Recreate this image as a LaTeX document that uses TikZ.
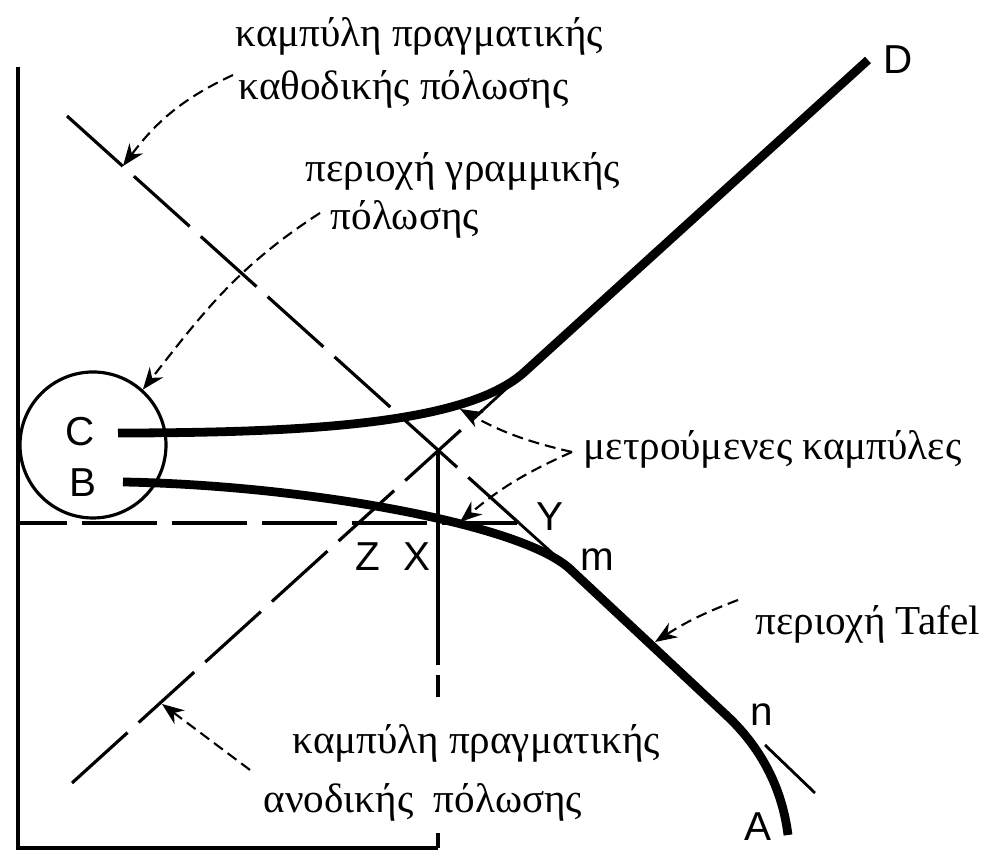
\documentclass[tikz,border=0pt]{standalone}
\usepackage{fontspec}
\setmainfont{Liberation Serif}
\setsansfont{Liberation Sans}
\usepackage{tikz}
\usetikzlibrary{arrows.meta}

\begin{document}
\begin{tikzpicture}[x=1cm,y=1cm,
  every node/.style={font=\fontsize{11.7}{14}\selectfont},
  letter/.style={font=\sffamily\fontsize{11.5}{12}\selectfont, inner sep=0pt},
  caption/.style={anchor=base west, inner sep=0pt},
  axisline/.style={line width=0.9pt},
  polcurve/.style={line width=2.5pt},
  thinline/.style={line width=0.8pt},
  longdash/.style={line width=0.9pt, dash pattern=on 0.75cm off 0.15cm},
  pointer/.style={line width=0.6pt, dash pattern=on 0.11cm off 0.06cm, -{Stealth[length=2.2mm,width=1.7mm]}}]
  \useasboundingbox (0,0) rectangle (9.84,8.52);

  % axes
  \coordinate (axTop) at (0.18,7.85);
  \coordinate (origin) at (0.18,0.04);
  \coordinate (xfoot) at (4.38,0.04);
  \draw[axisline] (axTop) -- (origin) -- (xfoot);
  \node[draw, circle, minimum size=1.46cm, inner sep=0pt, line width=0.9pt] (lin) at (0.93,4.07) {};

  % key points
  \coordinate (cross) at (4.38,4.02);
  \coordinate (Ypt) at (5.19,3.29);
  \coordinate (mpt) at (5.70,2.83);
  \coordinate (npt) at (7.25,1.38);
  \coordinate (Apt) at (7.88,0.17);
  \coordinate (hstart) at (0.18,3.29);
  \coordinate (catTop) at (0.67,7.36);
  \coordinate (anoBot) at (0.72,0.69);
  \coordinate (anoJoin) at (4.83,4.42);
  \coordinate (anoTan) at (5.25,4.805);
  \coordinate (Dpt) at (8.68,7.92);
  \coordinate (nTanA) at (7.65,1.07);
  \coordinate (nTanB) at (8.15,0.59);

  % real polarisation lines
  \draw[longdash] (catTop) -- (Ypt);
  \draw[thinline] (Ypt) -- (mpt);
  \draw[longdash] (anoBot) -- (anoJoin);
  \draw[thinline] (anoJoin) -- (anoTan);
  \draw[longdash, dash phase=0.26cm] (hstart) -- (Ypt);
  \draw[axisline, dash pattern=on 2.15cm off 0.1cm on 0.22cm off 1.36cm on 0.3cm] (cross) -- (xfoot);
  \draw[thinline] (nTanA) -- (nTanB);

  % measured curves
  \draw[polcurve] (1.18,4.19) .. controls (3.2,4.19) and (4.70,4.30) .. (anoTan) -- (Dpt);
  \draw[polcurve] (1.23,3.70) .. controls (3.0,3.67) and (5.20,3.29) .. (mpt) -- (npt)
    .. controls (7.60,1.06) and (7.82,0.65) .. (Apt);

  \foreach \lab/\x/\y in {D/8.98/7.92, C/0.80/4.20, B/0.83/3.69, Z/3.68/2.95, X/4.17/2.95, Y/5.50/3.35, m/5.97/2.92, n/7.62/1.37, A/7.58/0.25} {
    \node[letter] (lab\lab) at (\x,\y) {\lab};
  }

  % captions
  \node[caption] (catA) at (2.35,8.05) {καμπύλη πραγματικής};
  \node[caption] (catB) at (2.38,7.52) {καθοδικής πόλωσης};
  \node[caption] (linA) at (3.05,6.70) {περιοχή γραμμικής};
  \node[caption] (linB) at (3.30,6.22) {πόλωσης};
  \node[caption] (meas) at (5.83,3.92) {μετρούμενες καμπύλες};
  \node[caption] (tafel) at (7.55,2.17) {περιοχή Tafel};
  \node[caption] (anoA) at (2.92,0.98) {καμπύλη πραγματικής};
  \node[caption] (anoB) at (2.63,0.39) {ανοδικής\ \ πόλωσης};

  % pointers
  \coordinate (catFrom) at (2.33,7.77);
  \coordinate (catTip) at (1.23,6.86);
  \coordinate (linFrom) at (3.20,6.39);
  \coordinate (measFrom) at (5.72,4.00);
  \coordinate (measUp) at (4.60,4.43);
  \coordinate (measLow) at (4.60,3.30);
  \coordinate (tafFrom) at (7.38,2.52);
  \coordinate (tafTip) at (6.55,2.10);
  \coordinate (anoFrom) at (2.50,0.82);
  \coordinate (anoTip) at (1.62,1.48);
  \draw[pointer] (catFrom) to[out=205,in=53] (catTip);
  \draw[pointer] (linFrom) to[out=213,in=52] (lin.48);
  \draw[pointer] (measFrom) to[bend left=8] (measUp);
  \draw[pointer] (measFrom) to[bend right=8] (measLow);
  \draw[pointer] (tafFrom) to[bend right=6] (tafTip);
  \draw[pointer] (anoFrom) -- (anoTip);
\end{tikzpicture}
\end{document}
